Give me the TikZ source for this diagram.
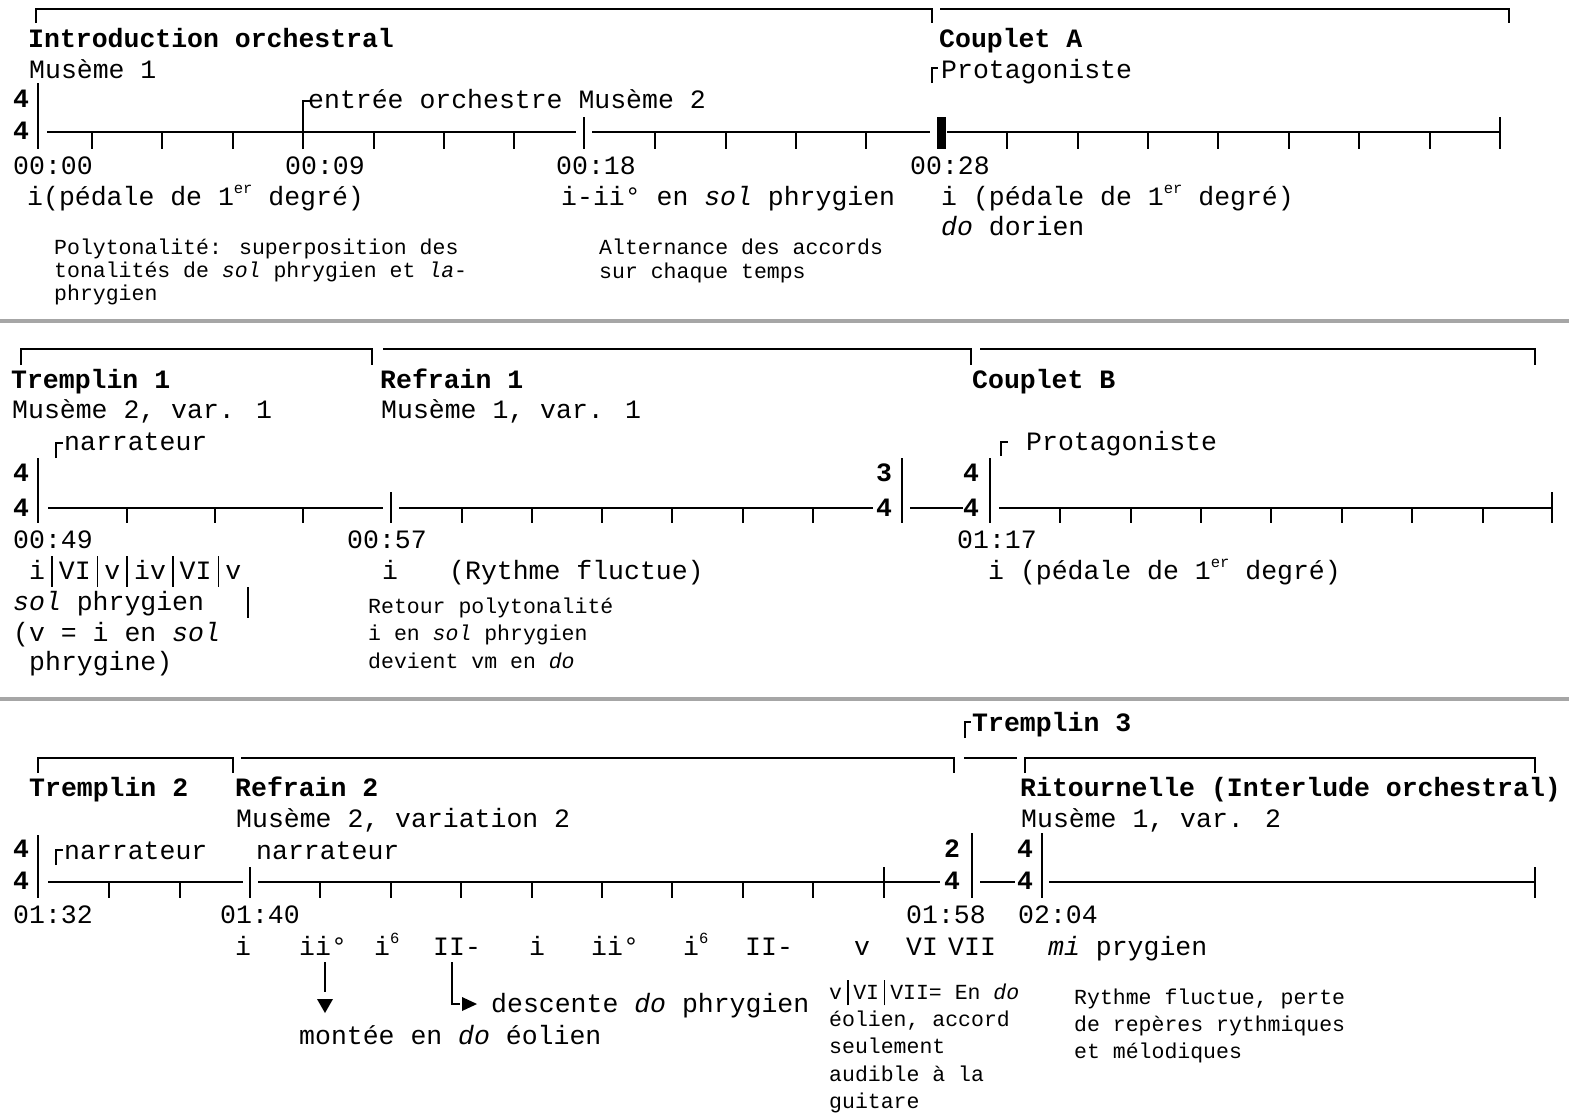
\documentclass[tikz,border=0pt]{standalone}
\usepackage{fontspec}
\newfontfamily\mono{Liberation Mono}
\newcommand\mainf{\mono\fontsize{26.5}{31}\selectfont}
\newcommand\smallf{\mono\fontsize{21.5}{26}\selectfont}
\newcommand\supx[1]{\raisebox{0.42em}{\fontsize{15.5}{16}\selectfont #1}}
\newcommand\vbar{\makebox[0.52em]{\rule[-0.3em]{1.6pt}{1.17em}}}
\begin{document}
\begin{tikzpicture}[x=1pt,y=-1pt,
  ln/.style={line width=2pt},
  barl/.style={line width=2.5pt},
  sepl/.style={line width=4pt,gray!70},
  t/.style={anchor=base west,inner sep=0pt,font=\mainf},
  hd/.style={anchor=base west,inner sep=0pt,font=\mainf\bfseries},
  sm/.style={anchor=base west,inner sep=0pt,font=\smallf},
  ts/.style={anchor=base,inner sep=0pt,font=\mainf\bfseries}]
\useasboundingbox (0,0) rectangle (1569,1112);
\fill[white] (0,0) rectangle (1569,1112);

% separators
\draw[sepl] (0,321) -- (1569,321);
\draw[sepl] (0,699) -- (1569,699);

%================ SECTION 1 =================
\draw[ln] (36,23) -- (36,9) -- (932,9) -- (932,23);
\draw[ln] (940,9) -- (1509,9) -- (1509,23);
\node[hd] (h1) at (28,47) {Introduction orchestral};
\node[hd] (h2) at (939,47) {Couplet A};
\node[t] (m1) at (29,78) {Musème 1};
\node[t] (pr1) at (941,78) {Protagoniste};
\draw[ln] (932,83) -- (932,68) -- (938,68);
\node[t] (en1) at (308,108) {entrée orchestre Musème 2};
\node[ts] (s1u) at (21,107.5) {4};
\node[ts] (s1l) at (21,139.5) {4};
% timeline 1
\draw[barl] (38,83) -- (38,149);
\draw[ln] (47,132) -- (576,132);
\draw[ln] (592,132) -- (930,132);
\draw[ln] (947,132) -- (1500,132);
\foreach \x in {92,162.4,232.8,373.6,444,514.4,655.2,725.6,796,866.4,1007.2,1077.6,1148,1218.4,1288.8,1359.2,1429.6}
  \draw[ln] (\x,132) -- (\x,149);
\draw[ln] (303,149) -- (303,101) -- (310,101);
\draw[barl] (584,117) -- (584,149);
\fill (937,117) rectangle (946,149);
\draw[barl] (1500,117) -- (1500,149);
\node[t] (t1a) at (13,174) {00:00};
\node[t] (t1b) at (285,174) {00:09};
\node[t] (t1c) at (556,174) {00:18};
\node[t] (t1d) at (910,174) {00:28};
\node[t] (c1a) at (27,205) {i(pédale de 1\supx{er} degré)};
\node[t] (c1b) at (561,205) {i-ii° en \textit{sol} phrygien};
\node[t] (c1c) at (941,205) {i (pédale de 1\supx{er} degré)};
\node[t] (c1d) at (941,235) {\textit{do} dorien};
\node[sm] (n1a) at (54,254) {Polytonalité: superposition des};
\node[sm] (n1b) at (54,277) {tonalités de \textit{sol} phrygien et \textit{la}-};
\node[sm] (n1c) at (54,300) {phrygien};
\node[sm] (n1d) at (599,254) {Alternance des accords};
\node[sm] (n1e) at (599,278) {sur chaque temps};

%================ SECTION 2 =================
\draw[ln] (21,365) -- (21,349) -- (372,349) -- (372,365);
\draw[ln] (383,349) -- (971,349) -- (971,365);
\draw[ln] (980,349) -- (1535,349) -- (1535,365);
\node[hd] (h3) at (11,388) {Tremplin 1};
\node[hd] (h4) at (380,388) {Refrain 1};
\node[hd] (h5) at (972,388) {Couplet B};
\node[t] (m2) at (12,418) {Musème 2, var. 1};
\node[t] (m3) at (381,418) {Musème 1, var. 1};
\node[t] (na2) at (64,450) {narrateur};
\draw[ln] (56,458) -- (56,443) -- (63,443);
\node[t] (pr2) at (1026,450) {Protagoniste};
\draw[ln] (1001,456) -- (1001,442) -- (1008,442);
\node[ts] (s2u) at (21,481) {4};
\node[ts] (s2l) at (21,516) {4};
\node[ts] (s3u) at (884,481) {3};
\node[ts] (s3l) at (884,516) {4};
\node[ts] (s4u) at (971,481) {4};
\node[ts] (s4l) at (971,516) {4};
% timeline 2
\draw[barl] (38,458) -- (38,523);
\draw[ln] (48,508) -- (383,508);
\draw[ln] (399,508) -- (873,508);
\draw[ln] (910,508) -- (963,508);
\draw[ln] (999,508) -- (1552,508);
\foreach \x in {127,215,303,462,532,602,672,743,813,1060,1131,1201,1271,1342,1412,1483}
  \draw[ln] (\x,508) -- (\x,523);
\draw[barl] (391,492) -- (391,523);
\draw[barl] (902,458) -- (902,523);
\draw[barl] (990,458) -- (990,523);
\draw[barl] (1552,492) -- (1552,523);
\node[t] (t2a) at (13,548) {00:49};
\node[t] (t2b) at (347,548) {00:57};
\node[t] (t2c) at (957,548) {01:17};
\node[t] (c2a) at (29,579) {i\vbar VI\vbar v\vbar iv\vbar VI\vbar v};
\node[t] (c2b) at (382,579) {i};
\node[t] (c2c) at (449,579) {(Rythme fluctue)};
\node[t] (c2d) at (988,579) {i (pédale de 1\supx{er} degré)};
\node[t] (c2e) at (13,610) {\textit{sol} phrygien\hspace{1.4em}\vbar};
\node[t] (c2f) at (13,641) {(v = i en \textit{sol}};
\node[t] (c2g) at (29,670) {phrygine)};
\node[sm] (n2a) at (368,613) {Retour polytonalité};
\node[sm] (n2b) at (368,640) {i en \textit{sol} phrygien};
\node[sm] (n2c) at (368,668) {devient vm en \textit{do}};

%================ SECTION 3 =================
\node[hd] (h9) at (972,731) {Tremplin 3};
\draw[ln] (965,738) -- (965,722) -- (971,722);
\draw[ln] (38,773) -- (38,758) -- (233,758) -- (233,773);
\draw[ln] (241,758) -- (954,758) -- (954,773);
\draw[ln] (964,758) -- (1017,758);
\draw[ln] (1025,773) -- (1025,758) -- (1535,758) -- (1535,773);
\node[hd] (h6) at (29,796) {Tremplin 2};
\node[hd] (h7) at (235,796) {Refrain 2};
\node[hd] (h8) at (1020,796) {Ritournelle (Interlude orchestral)};
\node[t] (m4) at (236,827) {Musème 2, variation 2};
\node[t] (m5) at (1021,827) {Musème 1, var. 2};
\node[t] (na3) at (64,859) {narrateur};
\draw[ln] (56,865) -- (56,850) -- (63,850);
\node[t] (na4) at (256,859) {narrateur};
\node[ts] (s5u) at (21,857.5) {4};
\node[ts] (s5l) at (21,889.5) {4};
\node[ts] (s6u) at (952,857.5) {2};
\node[ts] (s6l) at (952,889.5) {4};
\node[ts] (s7u) at (1025,857.5) {4};
\node[ts] (s7l) at (1025,889.5) {4};
% timeline 3
\draw[barl] (38,835) -- (38,898);
\draw[ln] (48,882) -- (243,882);
\draw[ln] (258,882) -- (940,882);
\draw[ln] (980,882) -- (1015,882);
\draw[ln] (1049,882) -- (1535,882);
\foreach \x in {109,180,320,390.5,461,531.5,602,672,742.5,813}
  \draw[ln] (\x,882) -- (\x,898);
\draw[ln] (884,867) -- (884,898);
\draw[barl] (250,867) -- (250,898);
\draw[barl] (972,833) -- (972,898);
\draw[barl] (1042,833) -- (1042,898);
\draw[barl] (1535,867) -- (1535,898);
\node[t] (t3a) at (13,923) {01:32};
\node[t] (t3b) at (220,923) {01:40};
\node[t] (t3c) at (906,923) {01:58};
\node[t] (t3d) at (1018,923) {02:04};
\node[t] (k1) at (235,955) {i};
\node[t] (k2) at (299,955) {ii°};
\node[t] (k3) at (374,955) {i\supx{6}};
\node[t] (k4) at (433,955) {II-};
\node[t] (k5) at (529,955) {i};
\node[t] (k6) at (591,955) {ii°};
\node[t] (k7) at (683,955) {i\supx{6}};
\node[t] (k8) at (745,955) {II-};
\node[t] (k9) at (854,955) {v};
\node[t] (k10) at (906,955) {VI};
\node[t] (k11) at (948,955) {VII};
\node[t] (k12) at (1048,955) {\textit{mi} prygien};
% arrows
\coordinate (a1) at (325,962);
\coordinate (a1e) at (325,992);
\draw[ln] (a1) -- (a1e);
\fill (317,999) -- (333,999) -- (325,1013) -- cycle;
\coordinate (a2) at (452,962);
\coordinate (a2e) at (460,1004);
\draw[ln] (a2) |- (a2e);
\fill (462,997) -- (477,1004) -- (462,1011) -- cycle;
\node[t] (d1) at (491,1012) {descente \textit{do} phrygien};
\node[t] (d2) at (299,1044) {montée en \textit{do} éolien};
\node[sm] (n3a) at (829,999) {v\vbar VI\vbar VII= En \textit{do}};
\node[sm] (n3b) at (829,1026) {éolien, accord};
\node[sm] (n3c) at (829,1053) {seulement};
\node[sm] (n3d) at (829,1081) {audible à la};
\node[sm] (n3e) at (829,1108) {guitare};
\node[sm] (n4a) at (1074,1004) {Rythme fluctue, perte};
\node[sm] (n4b) at (1074,1031) {de repères rythmiques};
\node[sm] (n4c) at (1074,1058) {et mélodiques};
\end{tikzpicture}
\end{document}
